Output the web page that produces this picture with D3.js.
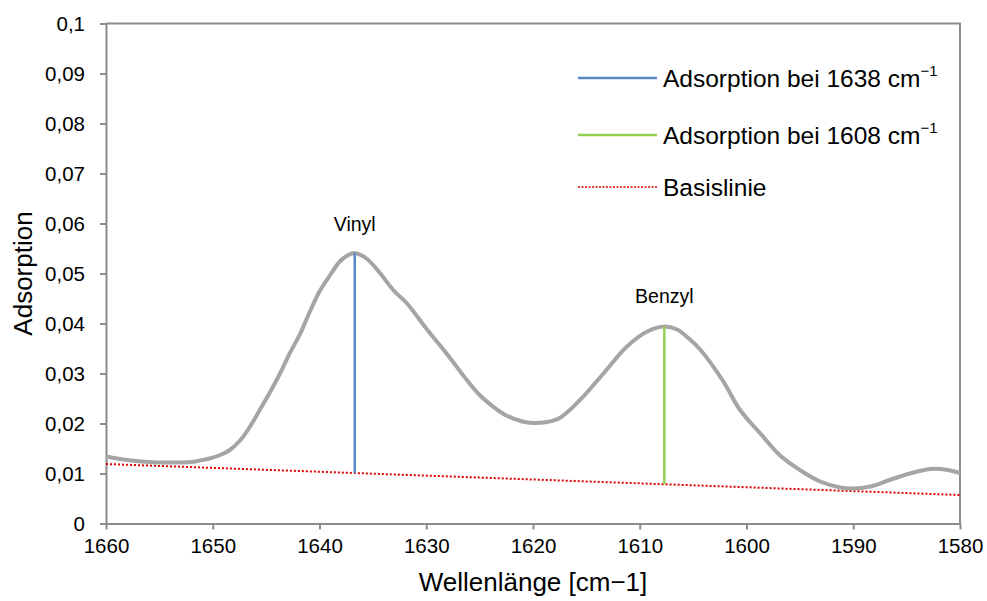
<!DOCTYPE html>
<html>
<head>
<meta charset="utf-8">
<script src="https://cdn.jsdelivr.net/npm/d3@7"></script>
<style>
  html, body { margin: 0; padding: 0; background: #fff; }
  svg { display: block; font-family: Arial, "Liberation Sans", sans-serif; }
</style>
</head>
<body>
<svg id="chart" width="987" height="601"></svg>
<script>
// IR spectrum (wavenumber in cm-1, absorbance)
const wavenumbers = [1660, 1658, 1656, 1654, 1652, 1651.2, 1650.3, 1649.3, 1648.4, 1647.4, 1646.5, 1645.6, 1644.6, 1643.7, 1642.8, 1641.8, 1640.9, 1640, 1639, 1638.1, 1637.3, 1636.7, 1635.6, 1634.3, 1633.1, 1631.8, 1630, 1628.1, 1626.2, 1625, 1623.5, 1622.5, 1621, 1620, 1618.7, 1617.5, 1615.6, 1613.4, 1611.2, 1609.3, 1607.7, 1606.5, 1605.5, 1604.3, 1602.2, 1600.6, 1598.7, 1596.9, 1595, 1593.1, 1591.2, 1590, 1588.4, 1586.6, 1584.7, 1582.8, 1581.9, 1580.9, 1580];
const absorbance  = [0.0134, 0.0127, 0.0123, 0.0122, 0.0123, 0.0126, 0.0130, 0.0137, 0.0147, 0.0167, 0.0194, 0.0227, 0.0264, 0.0300, 0.0340, 0.0380, 0.0424, 0.0464, 0.0497, 0.0524, 0.0537, 0.0541, 0.0530, 0.0500, 0.0467, 0.0440, 0.0390, 0.0340, 0.0287, 0.0257, 0.0230, 0.0216, 0.0204, 0.0201, 0.0203, 0.0211, 0.0247, 0.0300, 0.0354, 0.0384, 0.0394, 0.0388, 0.0372, 0.0347, 0.0285, 0.0227, 0.0180, 0.0137, 0.0107, 0.0084, 0.0072, 0.0070, 0.0074, 0.0087, 0.0100, 0.0109, 0.0109, 0.0106, 0.0101];

// Straight baseline between both ends of the window
const baselineX = [1660, 1580];
const baselineY = [0.0119, 0.0057];

// Peak heights measured from the baseline
const peakNames = ["Vinyl", "Benzyl"];
const peakX     = [1636.7, 1607.7];
const peakTop   = [0.0541, 0.0394];
const peakColors = ["#5B88C6", "#92D050"];

const xTicks = [1660, 1650, 1640, 1630, 1620, 1610, 1600, 1590, 1580];
const yTicks = [0, 0.01, 0.02, 0.03, 0.04, 0.05, 0.06, 0.07, 0.08, 0.09, 0.1];
const yTickLabels = ["0", "0,01", "0,02", "0,03", "0,04", "0,05", "0,06", "0,07", "0,08", "0,09", "0,1"];

const legendLabels = ["Adsorption bei 1638 cm", "Adsorption bei 1608 cm", "Basislinie"];

const svg = d3.select("#chart");
const plotLeft = 106, plotRight = 960, plotTop = 23.5, plotBottom = 523.5;

const x = d3.scaleLinear().domain([1660, 1580]).range([plotLeft, plotRight]);
const y = d3.scaleLinear().domain([0, 0.1]).range([plotBottom, plotTop]);
const baseAt = d3.scaleLinear().domain(baselineX).range(baselineY);

const axisColor = "#8C8C8C";

// plot frame (top and right edges)
svg.append("path")
  .attr("d", `M${plotLeft},${plotTop}H${plotRight}V${plotBottom}`)
  .attr("fill", "none").attr("stroke", axisColor).attr("stroke-width", 2);

// y axis
const yAxis = svg.append("g").attr("transform", `translate(${plotLeft},0)`)
  .call(d3.axisLeft(y).tickValues(yTicks).tickSize(6).tickSizeOuter(0)
    .tickFormat((d, i) => yTickLabels[i]));
// x axis
const xAxis = svg.append("g").attr("transform", `translate(0,${plotBottom})`)
  .call(d3.axisBottom(x).tickValues(xTicks).tickSize(6).tickSizeOuter(0)
    .tickFormat(d3.format("d")));

[yAxis, xAxis].forEach(g => {
  g.select(".domain").attr("stroke", axisColor).attr("stroke-width", 2);
  g.selectAll(".tick line").attr("stroke", axisColor).attr("stroke-width", 2);
  g.selectAll(".tick text").attr("fill", "#000").style("font-size", "20.5px")
    .style("font-family", "Arial, 'Liberation Sans', sans-serif");
});
yAxis.selectAll(".tick text").attr("x", -21).attr("dy", "0.35em");
xAxis.selectAll(".tick text").attr("y", 15).attr("dy", "0.71em");

// axis titles
svg.append("text")
  .attr("x", (plotLeft + plotRight) / 2).attr("y", 591)
  .attr("text-anchor", "middle").style("font-size", "26px")
  .text("Wellenlänge [cm\u22121]");
svg.append("text")
  .attr("transform", `translate(32,${(plotTop + plotBottom) / 2}) rotate(-90)`)
  .attr("text-anchor", "middle").style("font-size", "26px")
  .text("Adsorption");

// baseline
svg.append("line")
  .attr("x1", x(baselineX[0])).attr("y1", y(baselineY[0]))
  .attr("x2", x(baselineX[1])).attr("y2", y(baselineY[1]))
  .attr("stroke", "#E00000").attr("stroke-width", 2)
  .attr("stroke-dasharray", "2,2");

// spectrum
const pts = wavenumbers.map((w, i) => [w, absorbance[i]]);
svg.append("path")
  .datum(pts)
  .attr("fill", "none").attr("stroke", "#A5A5A5").attr("stroke-width", 4)
  .attr("stroke-linejoin", "round")
  .attr("d", d3.line().x(d => x(d[0])).y(d => y(d[1])).curve(d3.curveCatmullRom.alpha(0.5)));

// peak height markers
peakX.forEach((px, i) => {
  svg.append("line")
    .attr("x1", x(px)).attr("x2", x(px))
    .attr("y1", y(baseAt(px))).attr("y2", y(peakTop[i]))
    .attr("stroke", peakColors[i]).attr("stroke-width", 2.5);
});

// peak annotations
const labelLift = [22, 24];
peakNames.forEach((name, i) => {
  svg.append("text")
    .attr("x", x(peakX[i])).attr("y", y(peakTop[i]) - labelLift[i])
    .attr("text-anchor", "middle").style("font-size", "19.5px")
    .text(name);
});

// legend
const legendStyles = [
  { color: peakColors[0], dash: null, w: 2.5 },
  { color: peakColors[1], dash: null, w: 2.5 },
  { color: "#E00000", dash: "2,1.5", w: 1.5 }
];
const legendY = [78, 135, 187];
legendLabels.forEach((lab, i) => {
  const g = svg.append("g");
  g.append("line")
    .attr("x1", 578).attr("x2", 657).attr("y1", legendY[i]).attr("y2", legendY[i])
    .attr("stroke", legendStyles[i].color).attr("stroke-width", legendStyles[i].w)
    .attr("stroke-dasharray", legendStyles[i].dash);
  const t = g.append("text").attr("x", 663).attr("y", legendY[i] + 9)
    .style("font-size", "24.5px").text(lab);
  if (i < 2) {
    t.append("tspan").attr("dy", -11).style("font-size", "15px").text("\u22121");
  }
});
</script>
</body>
</html>
